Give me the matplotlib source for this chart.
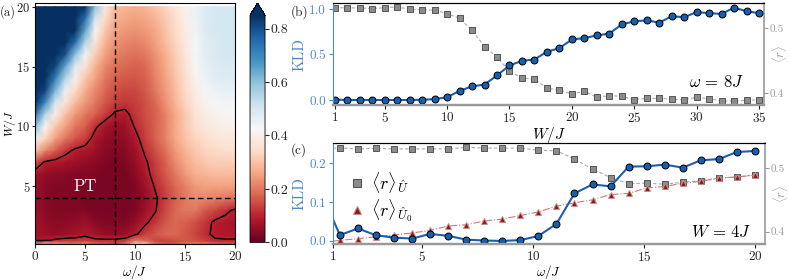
import numpy as np
import matplotlib
matplotlib.use('Agg')
import matplotlib.pyplot as plt
from matplotlib.lines import Line2D

plt.rcParams['font.family'] = ['cmr10', 'DejaVu Serif']
plt.rcParams['mathtext.fontset'] = 'cm'
plt.rcParams['axes.formatter.use_mathtext'] = True
plt.rcParams['axes.unicode_minus'] = False

# ---------------- panel (a) data: KLD map (rows = W, cols = omega) ----------------
omega_grid = list(range(0, 21))
W_grid = [0, 0.5, 1, 2, 3, 4, 5, 6, 7, 8, 9, 10, 11, 12, 13, 14, 15, 16, 17, 18, 19, 20]
row_W0 = [0.6, 0.4, 0.3, 0.25, 0.22, 0.25, 0.2, 0.18, 0.15, 0.2, 0.5, 0.45, 0.2, 0.15, 0.15, 0.2, 0.22, 0.22, 0.2, 0.18, 0.18]
row_W05 = [0.07, 0.09, 0.11, 0.12, 0.12, 0.13, 0.11, 0.11, 0.11, 0.12, 0.2, 0.18, 0.14, 0.14, 0.15, 0.16, 0.15, 0.13, 0.105, 0.105, 0.105]
row_W1 = [0.07, 0.06, 0.05, 0.06, 0.07, 0.085, 0.07, 0.05, 0.05, 0.06, 0.09, 0.13, 0.16, 0.18, 0.18, 0.16, 0.14, 0.11, 0.09, 0.08, 0.08]
row_W2 = [0.07, 0.05, 0.04, 0.04, 0.05, 0.06, 0.04, 0.03, 0.03, 0.03, 0.05, 0.09, 0.12, 0.16, 0.18, 0.17, 0.15, 0.12, 0.09, 0.08, 0.07]
row_W3 = [0.06, 0.04, 0.03, 0.03, 0.03, 0.03, 0.02, 0.02, 0.02, 0.02, 0.03, 0.06, 0.095, 0.14, 0.18, 0.2, 0.2, 0.16, 0.14, 0.115, 0.09]
row_W4 = [0.06, 0.04, 0.03, 0.03, 0.03, 0.02, 0.02, 0.02, 0.02, 0.02, 0.03, 0.05, 0.09, 0.13, 0.17, 0.2, 0.22, 0.22, 0.21, 0.2, 0.19]
row_W5 = [0.06, 0.04, 0.03, 0.03, 0.03, 0.02, 0.02, 0.02, 0.02, 0.02, 0.03, 0.06, 0.105, 0.14, 0.18, 0.21, 0.24, 0.25, 0.25, 0.25, 0.25]
row_W6 = [0.07, 0.05, 0.04, 0.04, 0.03, 0.03, 0.03, 0.02, 0.02, 0.02, 0.04, 0.08, 0.12, 0.16, 0.2, 0.24, 0.27, 0.28, 0.29, 0.29, 0.29]
row_W7 = [0.15, 0.09, 0.08, 0.07, 0.06, 0.05, 0.04, 0.03, 0.02, 0.03, 0.05, 0.09, 0.13, 0.17, 0.22, 0.26, 0.29, 0.31, 0.32, 0.32, 0.32]
row_W8 = [0.3, 0.22, 0.17, 0.12, 0.09, 0.08, 0.06, 0.04, 0.03, 0.04, 0.06, 0.11, 0.15, 0.19, 0.24, 0.28, 0.31, 0.33, 0.34, 0.35, 0.35]
row_W9 = [0.45, 0.33, 0.25, 0.2, 0.16, 0.13, 0.08, 0.05, 0.04, 0.05, 0.08, 0.13, 0.17, 0.21, 0.26, 0.3, 0.33, 0.35, 0.37, 0.38, 0.38]
row_W10 = [0.6, 0.42, 0.31, 0.25, 0.2, 0.17, 0.11, 0.07, 0.05, 0.06, 0.105, 0.14, 0.17, 0.21, 0.26, 0.31, 0.35, 0.38, 0.39, 0.4, 0.4]
row_W11 = [0.75, 0.55, 0.4, 0.3, 0.24, 0.2, 0.17, 0.13, 0.09, 0.085, 0.12, 0.15, 0.17, 0.21, 0.26, 0.31, 0.36, 0.39, 0.41, 0.42, 0.42]
row_W12 = [0.9, 0.7, 0.5, 0.37, 0.29, 0.24, 0.2, 0.16, 0.13, 0.12, 0.13, 0.15, 0.18, 0.23, 0.28, 0.33, 0.38, 0.41, 0.43, 0.44, 0.44]
row_W13 = [0.98, 0.82, 0.62, 0.45, 0.34, 0.27, 0.22, 0.18, 0.15, 0.14, 0.14, 0.16, 0.2, 0.24, 0.29, 0.34, 0.39, 0.43, 0.45, 0.46, 0.46]
row_W14 = [1.0, 0.9, 0.72, 0.55, 0.4, 0.31, 0.25, 0.2, 0.17, 0.16, 0.16, 0.17, 0.21, 0.25, 0.3, 0.35, 0.41, 0.45, 0.47, 0.48, 0.48]
row_W15 = [1.0, 0.95, 0.82, 0.65, 0.48, 0.36, 0.28, 0.22, 0.19, 0.18, 0.17, 0.18, 0.22, 0.26, 0.31, 0.36, 0.42, 0.46, 0.48, 0.49, 0.49]
row_W16 = [1.0, 1.0, 0.95, 0.8, 0.6, 0.44, 0.32, 0.25, 0.21, 0.2, 0.19, 0.2, 0.23, 0.27, 0.32, 0.37, 0.43, 0.47, 0.49, 0.5, 0.5]
row_W17 = [1.0, 1.0, 1.0, 0.92, 0.75, 0.55, 0.37, 0.28, 0.23, 0.22, 0.21, 0.22, 0.25, 0.29, 0.33, 0.38, 0.43, 0.47, 0.49, 0.5, 0.5]
row_W18 = [1.0, 1.0, 1.0, 1.0, 0.88, 0.65, 0.42, 0.31, 0.25, 0.24, 0.23, 0.24, 0.26, 0.3, 0.34, 0.39, 0.44, 0.48, 0.5, 0.5, 0.5]
row_W19 = [1.0, 1.0, 1.0, 1.0, 0.95, 0.75, 0.5, 0.35, 0.27, 0.26, 0.25, 0.26, 0.28, 0.31, 0.35, 0.4, 0.45, 0.48, 0.5, 0.5, 0.5]
row_W20 = [1.0, 1.0, 1.0, 1.0, 1.0, 0.88, 0.6, 0.38, 0.29, 0.28, 0.27, 0.28, 0.3, 0.33, 0.37, 0.41, 0.45, 0.48, 0.5, 0.5, 0.5]
kld_map = np.array([row_W0, row_W05, row_W1, row_W2, row_W3, row_W4, row_W5, row_W6, row_W7,
                    row_W8, row_W9, row_W10, row_W11, row_W12, row_W13, row_W14, row_W15,
                    row_W16, row_W17, row_W18, row_W19, row_W20])
contour_level = 0.1
cbar_ticks = [0.0, 0.2, 0.4, 0.6, 0.8]

# ---------------- panel (b) data ----------------
W_b = list(range(1, 36))
kld_b = [0.005, 0.0, 0.0, 0.0, 0.0, 0.0, 0.0, 0.002, 0.01, 0.03, 0.10, 0.15, 0.17, 0.27, 0.38,
         0.43, 0.445, 0.53, 0.57, 0.665, 0.68, 0.71, 0.73, 0.83, 0.865, 0.875, 0.85, 0.92, 0.91,
         0.965, 0.955, 0.945, 1.015, 0.975, 0.955]
r_b = [0.531, 0.5306, 0.5306, 0.5295, 0.531, 0.532, 0.5285, 0.528, 0.527, 0.522, 0.5145, 0.4964,
       0.4715, 0.455, 0.4337, 0.4233, 0.4218, 0.4078, 0.4047, 0.399, 0.4031, 0.3938, 0.3964,
       0.3953, 0.3902, 0.3922, 0.3922, 0.3907, 0.3902, 0.3938, 0.3917, 0.3881, 0.3881, 0.389, 0.3902]

# ---------------- panel (c) data ----------------
omega_c = [0.5, 1.3125, 2.125, 2.9375, 3.75, 4.5625, 5.375, 6.1875, 7.0, 7.8125, 8.625, 9.4375,
           10.25, 11.0625, 11.875, 12.6875, 13.5, 14.3125, 15.125, 15.9375, 16.75, 17.5625,
           18.375, 19.1875, 20.0]
kld_c = [0.12, 0.015, 0.032, 0.0145, 0.0085, 0.006, 0.018, 0.013, 0.0034, 0.001, 0.0, 0.002,
         0.0128, 0.0436, 0.122, 0.145, 0.140, 0.1906, 0.1915, 0.1957, 0.188, 0.2068, 0.210,
         0.228, 0.2308]
r_U_c = [0.531, 0.5313, 0.530, 0.5307, 0.530, 0.5297, 0.530, 0.530, 0.5323, 0.5313, 0.531, 0.5313,
         0.5276, 0.527, 0.514, 0.498, 0.485, 0.4755, 0.476, 0.4745, 0.4776, 0.48, 0.4844,
         0.4854, 0.4896]
r_U0_c = [0.383, 0.3865, 0.389, 0.392, 0.395, 0.398, 0.402, 0.4088, 0.411, 0.4167, 0.4198, 0.4255,
          0.431, 0.440, 0.4453, 0.450, 0.4583, 0.460, 0.4688, 0.471, 0.476, 0.479, 0.4839,
          0.486, 0.4885]

# ---------------- styles ----------------
BLUE_LINE = '#1b5faf'
BLUE_FACE = '#1660b0'
BLUE_LABEL = '#4f88c8'
GREY = '#999999'
TXT = '#222222'
FS_TICK = 9.5
FS_TICK_R = 8
FS_LAB = 9.5

fig = plt.figure(figsize=(7.89, 2.80), dpi=100)

# ---- (a) ----
ax_a = fig.add_axes([0.0444, 0.127, 0.2535, 0.862])
cmap = plt.get_cmap('RdBu').copy()
mesh = ax_a.pcolormesh(omega_grid, W_grid, kld_map, cmap=cmap, vmin=0, vmax=0.85,
                       shading='gouraud', rasterized=True)
ax_a.contour(omega_grid, W_grid, kld_map, levels=[contour_level], colors='k', linewidths=1.0)
ax_a.axvline(8, color='k', ls='--', lw=1.0, dashes=(4, 2.5))
ax_a.axhline(4, color='k', ls='--', lw=1.0, dashes=(4, 2.5))
ax_a.text(5.0, 5.0, 'PT', color='white', fontsize=12, ha='center', va='center')
ax_a.set_xlim(0, 20)
ax_a.set_ylim(0.15, 20.3)
ax_a.set_xticks([0, 5, 10, 15, 20])
ax_a.set_yticks([5, 10, 15, 20])
ax_a.set_xlabel(r'$\omega/J$', fontsize=FS_LAB, labelpad=-1)
ax_a.set_ylabel(r'$W/J$', fontsize=8.5)
ax_a.yaxis.set_label_coords(-0.086, 0.5)
ax_a.tick_params(axis='y', labelsize=9, length=2.5, width=0.8, colors=TXT, pad=1)
ax_a.tick_params(axis='x', labelsize=FS_TICK, length=3, width=0.8, colors=TXT, pad=1)

cax = fig.add_axes([0.3169, 0.134, 0.019, 0.855])
cb = fig.colorbar(mesh, cax=cax, extend='max', ticks=cbar_ticks, extendfrac=0.053)
cb.ax.set_yticklabels(['%.1f' % t for t in cbar_ticks])
cb.ax.tick_params(labelsize=FS_TICK + 0.5, length=3, width=0.8, colors=TXT, pad=1)
cb.outline.set_linewidth(0.6)

# ---- (b) ----
def style_pair(ax, ax2):
    ax.set_zorder(ax2.get_zorder() + 1)
    ax.patch.set_visible(False)
    ax.spines['left'].set_color(BLUE_LABEL)
    ax.spines['bottom'].set_color(GREY)
    ax.spines['bottom'].set_linewidth(1.6)
    ax.spines['top'].set_color('k')
    ax.spines['right'].set_visible(False)
    ax2.spines['right'].set_color(GREY)
    ax2.spines['right'].set_linewidth(1.2)
    ax2.spines['left'].set_visible(False)
    ax2.spines['bottom'].set_color(GREY)
    ax2.spines['bottom'].set_linewidth(1.6)
    ax.tick_params(axis='y', colors=BLUE_LABEL, labelsize=FS_TICK, length=3, width=0.8, pad=2)
    ax.tick_params(axis='x', colors=TXT, labelsize=FS_TICK, length=3, width=0.8, pad=1)
    ax2.tick_params(axis='y', colors=GREY, labelsize=FS_TICK_R, length=3, width=0.8, pad=1)
    ax.set_ylabel('KLD', color=BLUE_LABEL, fontsize=11, labelpad=2)
    ax2.set_ylabel(r'$\langle r\rangle$', color=GREY, fontsize=9, labelpad=-10)

ax_b = fig.add_axes([0.422, 0.625, 0.5463, 0.364])
ax_b2 = ax_b.twinx()
ax_b2.plot(W_b, r_b, ls='--', marker='s', color='#aaaaaa', mfc='#8c8c8c', mec='#555555',
           ms=4.5, lw=0.8, mew=0.7, dashes=(3, 2))
ax_b.plot(W_b, kld_b, ls='-', marker='o', color=BLUE_LINE, mfc=BLUE_FACE, mec='k',
          ms=5, lw=1.5, mew=0.7)
ax_b.set_xlim(0.85, 35.4)
ax_b.set_ylim(-0.055, 1.065)
ax_b2.set_ylim(0.382, 0.538)
ax_b.set_xticks([1, 5, 10, 15, 20, 25, 30, 35])
ax_b.set_yticks([0.0, 0.5, 1.0])
ax_b.set_yticklabels(['0.0', '0.5', '1.0'])
ax_b2.set_yticks([0.4, 0.5])
ax_b2.set_yticklabels(['0.4', '0.5'])
ax_b.set_xlabel(r'$W/J$', fontsize=11, labelpad=0)
style_pair(ax_b, ax_b2)
ax_b.text(0.826, 0.225, r'$\omega\, =\, 8J$', transform=ax_b.transAxes, fontsize=12,
          ha='left', va='center')

# ---- (c) ----
ax_c = fig.add_axes([0.422, 0.127, 0.5475, 0.362])
ax_c2 = ax_c.twinx()
ax_c2.plot(omega_c, r_U_c, ls='--', marker='s', color='#aaaaaa', mfc='#8c8c8c', mec='#555555',
           ms=4.5, lw=0.8, mew=0.7, dashes=(3, 2))
ax_c2.plot(omega_c, r_U0_c, ls='-.', marker='^', color='#d07a7a', mfc='#8b1a1a', mec='#c98a8a',
           ms=4.5, lw=0.8, mew=0.7)
ax_c.plot(omega_c, kld_c, ls='-', marker='o', color=BLUE_LINE, mfc=BLUE_FACE, mec='k',
          ms=5, lw=1.5, mew=0.7)
ax_c.set_xlim(1, 20.45)
ax_c.set_ylim(-0.009, 0.251)
ax_c2.set_ylim(0.380, 0.539)
ax_c.set_xticks([1, 5, 10, 15, 20])
ax_c.set_yticks([0.0, 0.1, 0.2])
ax_c.set_yticklabels(['0.0', '0.1', '0.2'])
ax_c2.set_yticks([0.4, 0.5])
ax_c2.set_yticklabels(['0.4', '0.5'])
ax_c.set_xlabel(r'$\omega/J$', fontsize=FS_LAB, labelpad=-1)
style_pair(ax_c, ax_c2)
ax_c.text(0.828, 0.127, r'$W\, =\, 4J$', transform=ax_c.transAxes, fontsize=12,
          ha='left', va='center')
handles = [Line2D([], [], ls='none', marker='s', mfc='#8c8c8c', mec='#555555', ms=5.5, mew=0.8),
           Line2D([], [], ls='none', marker='^', mfc='#8b1a1a', mec='#c98a8a', ms=5.5, mew=0.8)]
ax_c.legend(handles, [r'$\langle r\rangle_{\hat{U}}$', r'$\langle r\rangle_{\hat{U}_0}$'],
            loc='center left', bbox_to_anchor=(0.005, 0.47), frameon=False, fontsize=13,
            handlelength=1.0, handletextpad=0.3, labelspacing=0.15, borderaxespad=0.3)

# ---- panel labels ----
fig.text(0.0, 0.957, '(a)', fontsize=9, color=TXT, va='center', ha='left')
fig.text(0.368, 0.957, '(b)', fontsize=FS_TICK, color=TXT, va='center', ha='left')
fig.text(0.368, 0.464, '(c)', fontsize=FS_TICK, color=TXT, va='center', ha='left')

fig.savefig('out.png', dpi=100)
